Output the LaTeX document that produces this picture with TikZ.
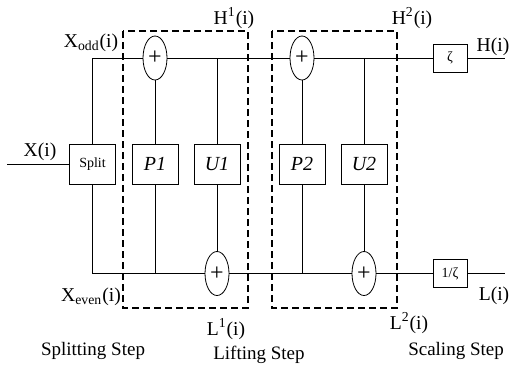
\documentclass[tikz,border=0pt]{standalone}
\usepackage{fontspec}
\setmainfont{Liberation Serif}
\usetikzlibrary{shapes.geometric}

\begin{document}
\begin{tikzpicture}[x=0.5pt,y=-0.5pt,
  blk/.style={draw,rectangle,minimum width=23pt,minimum height=20pt,inner sep=0pt,font=\fontsize{10}{12}\selectfont\itshape},
  adder/.style={draw,ellipse,minimum width=12pt,minimum height=22pt,inner sep=0pt,font=\fontsize{12}{12}\selectfont},
  gain/.style={draw,rectangle,minimum width=17pt,minimum height=14pt,inner sep=0pt,font=\fontsize{7}{8}\selectfont},
  lbl/.style={inner sep=0pt,font=\fontsize{9.8}{11}\selectfont},
  stage/.style={line width=1.1pt,dash pattern=on 3.5pt off 2pt}]
  \useasboundingbox (0,0) rectangle (512,371);

  % lifting stages
  \draw[stage] (123,31) rectangle (248,308);
  \draw[stage] (272,31) rectangle (397,308);

  % blocks
  \node[blk,font=\fontsize{7}{8}\selectfont] (split) at (92.5,164) {Split};
  \node[blk] (p1) at (155,164) {P1};
  \node[blk] (u1) at (217,164) {U1};
  \node[blk] (p2) at (302,164) {P2};
  \node[blk] (u2) at (364,164) {U2};
  \node[adder] (a1) at (155,58) {+};
  \node[adder] (a2) at (302,58) {+};
  \node[adder] (b1) at (217,273.5) {+};
  \node[adder] (b2) at (364,273.5) {+};
  \node[gain] (z) at (450,58) {ζ};
  \node[gain] (iz) at (450,273.5) {1/ζ};
  \coordinate (in) at (7,164);
  \coordinate (hout) at (505,58);
  \coordinate (lout) at (505,273.5);

  % odd branch
  \draw (in) -- (split);
  \draw (split.north) |- (a1.west);
  \draw (a1) -- (a2) -- (z) -- (hout);
  \draw (p1) -- (a1);
  \draw (p2) -- (a2);
  \draw (u1.north) -- (u1.north |- a1);
  \draw (u2.north) -- (u2.north |- a2);

  % even branch
  \draw (split.south) |- (b1.west);
  \draw (b1) -- (b2) -- (iz) -- (lout);
  \draw (p1.south) -- (p1.south |- b1);
  \draw (p2.south) -- (p2.south |- b2);
  \draw (u1) -- (b1);
  \draw (u2) -- (b2);

  % signal labels
  \node[lbl] (xin) at (40,152) {X(i)};
  \node[lbl] (xodd) at (91,43) {X\textsubscript{odd}(i)};
  \node[lbl] (xeven) at (91,297) {X\textsubscript{even}(i)};
  \node[lbl] (h1) at (234,18) {H\textsuperscript{1}(i)};
  \node[lbl] (h2) at (412,18) {H\textsuperscript{2}(i)};
  \node[lbl] (hi) at (493,47) {H(i)};
  \node[lbl] (l1) at (226,329) {L\textsuperscript{1}(i)};
  \node[lbl] (l2) at (409,323) {L\textsuperscript{2}(i)};
  \node[lbl] (li) at (494,296) {L(i)};

  % step captions
  \node[lbl,font=\fontsize{9.5}{11}\selectfont] (s1) at (93,351) {Splitting Step};
  \node[lbl,font=\fontsize{9.5}{11}\selectfont] (s2) at (259,355) {Lifting Step};
  \node[lbl,font=\fontsize{9.5}{11}\selectfont] (s3) at (456,351) {Scaling Step};
\end{tikzpicture}
\end{document}
